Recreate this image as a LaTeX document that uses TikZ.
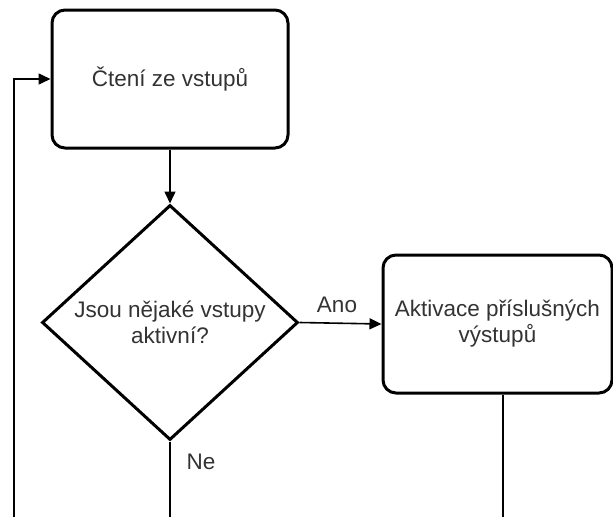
\documentclass[tikz,border=0pt]{standalone}
\usepackage{fontspec}
\setmainfont{Liberation Sans}
\usetikzlibrary{shapes.geometric,arrows.meta}
\definecolor{txt}{HTML}{333333}
\begin{document}
\begin{tikzpicture}[x=1pt,y=-1pt,
  txtfont/.style={text=txt, font=\fontsize{22.5}{26}\selectfont},
  proc/.style={draw=black, line width=3pt, rounded corners=13pt, align=center, txtfont, inner sep=0pt},
  dec/.style={draw=black, line width=3pt, diamond, shape aspect=1.09, inner sep=0pt,
    minimum width=256pt, minimum height=235pt, align=center, txtfont},
  conn/.style={line width=1.6pt, draw=black},
  arr/.style={conn, -{Triangle[length=12pt,width=11pt]}},
  lbl/.style={txtfont}
]
\useasboundingbox (0,0) rectangle (613,517);
\node[proc, minimum width=236pt, minimum height=138pt] (read) at (170,79) {Čtení ze vstupů};
\node[dec] (q) at (170,322.5) {Jsou nějaké vstupy\\aktivní?};
\node[proc, minimum width=229pt, minimum height=138pt] (act) at (497.5,324) {Aktivace příslušných\\výstupů};
\coordinate (neend) at (170,517);
\coordinate (actend) at (503,517);
\coordinate (loopbot) at (14,517);
\draw[arr] (read.south) -- (q.north);
\draw[arr] (q.east) -- (act.west);
\node[lbl] (ano) at (337,305) {Ano};
\draw[conn] (q.south) -- (neend);
\node[lbl] (ne) at (201,462) {Ne};
\draw[conn] (act.south -| actend) -- (actend);
\draw[arr] (loopbot) |- (read.west);
\end{tikzpicture}
\end{document}
